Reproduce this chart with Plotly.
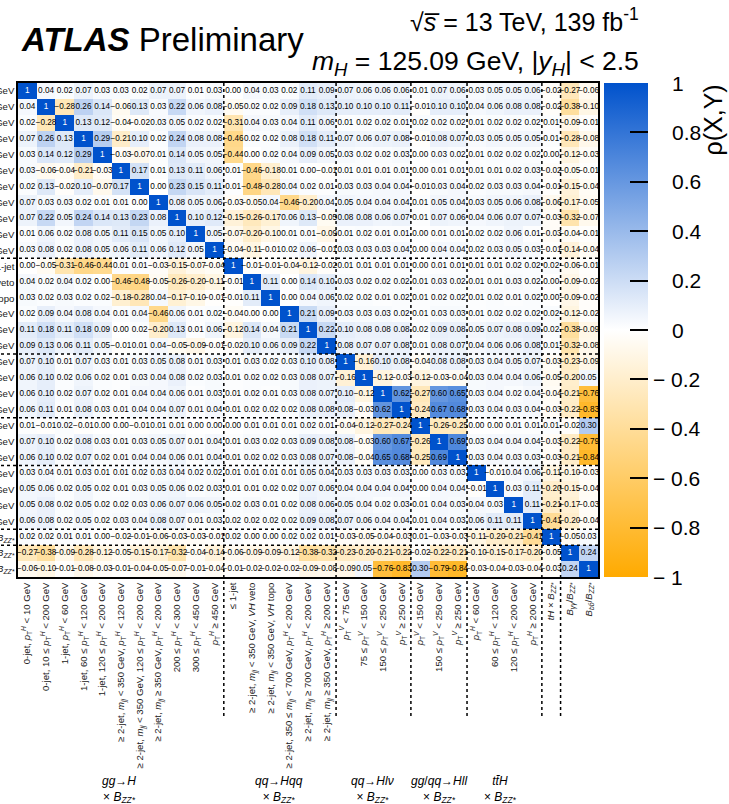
import plotly.graph_objects as go

# ---- bin labels (rows and columns share the same ordering) ----
pTH = "<i>p</i><sub>T</sub><sup><i>H</i></sup>"
pTV = "<i>p</i><sub>T</sub><sup><i>V</i></sup>"
mjj = "<i>m</i><sub><i>jj</i></sub>"
BZZ = "<i>B</i><sub><i>ZZ*</i></sub>"

labels = [
    f"0-jet, {pTH} < 10 GeV",
    f"0-jet, 10 ≤ {pTH} < 200 GeV",
    f"1-jet, {pTH} < 60 GeV",
    f"1-jet, 60 ≤ {pTH} < 120 GeV",
    f"1-jet, 120 ≤ {pTH} < 200 GeV",
    f"≥ 2-jet, {mjj} < 350 GeV, {pTH} < 120 GeV",
    f"≥ 2-jet, {mjj} < 350 GeV, 120 ≤ {pTH} < 200 GeV",
    f"≥ 2-jet, {mjj} ≥ 350 GeV, {pTH} < 200 GeV",
    f"200 ≤ {pTH} < 300 GeV",
    f"300 ≤ {pTH} < 450 GeV",
    f"{pTH} ≥ 450 GeV",
    "≤ 1-jet",
    f"≥ 2-jet, {mjj} < 350 GeV, <i>VH</i> veto",
    f"≥ 2-jet, {mjj} < 350 GeV, <i>VH</i> topo",
    f"≥ 2-jet, 350 ≤ {mjj} < 700 GeV, {pTH} < 200 GeV",
    f"≥ 2-jet, {mjj} ≥ 700 GeV, {pTH} < 200 GeV",
    f"≥ 2-jet, {mjj} ≥ 350 GeV, {pTH} ≥ 200 GeV",
    f"{pTV} < 75 GeV",
    f"75 ≤ {pTV} < 150 GeV",
    f"150 ≤ {pTV} < 250 GeV",
    f"{pTV} ≥ 250 GeV",
    f"{pTV} < 150 GeV",
    f"150 ≤ {pTV} < 250 GeV",
    f"{pTV} ≥ 250 GeV",
    f"{pTH} < 60 GeV",
    f"60 ≤ {pTH} < 120 GeV",
    f"120 ≤ {pTH} < 200 GeV",
    f"{pTH} ≥ 200 GeV",
    f"<i>tH</i> × {BZZ}",
    f"<i>B</i><sub><i>γγ</i></sub>/{BZZ}",
    f"<i>B</i><sub><i>bb̄</i></sub>/{BZZ}",
]

# ---- correlation matrix rho(X, Y), row by row from the top ----
rho = [
    [1, 0.04, 0.02, 0.07, 0.03, 0.03, 0.02, 0.07, 0.07, 0.01, 0.03, 0.00, 0.04, 0.03, 0.02, 0.11, 0.09, 0.07, 0.06, 0.06, 0.06, 0.01, 0.07, 0.06, 0.03, 0.05, 0.05, 0.06, -0.02, -0.27, -0.06],
    [0.04, 1, -0.28, 0.26, 0.14, -0.06, 0.13, 0.03, 0.22, 0.06, 0.08, -0.05, 0.02, 0.02, 0.09, 0.18, 0.13, 0.10, 0.10, 0.10, 0.11, -0.01, 0.10, 0.10, 0.04, 0.06, 0.08, 0.08, -0.02, -0.38, -0.10],
    [0.02, -0.28, 1, 0.13, 0.12, -0.04, -0.02, 0.03, 0.05, 0.02, 0.02, -0.31, 0.04, 0.03, 0.04, 0.11, 0.06, 0.01, 0.02, 0.02, 0.01, 0.02, 0.02, 0.02, 0.01, 0.02, 0.02, 0.02, 0.01, -0.09, -0.01],
    [0.07, 0.26, 0.13, 1, 0.29, -0.21, 0.10, 0.02, 0.24, 0.08, 0.08, -0.46, 0.02, 0.02, 0.08, 0.18, 0.11, 0.07, 0.06, 0.07, 0.08, -0.01, 0.08, 0.07, 0.03, 0.05, 0.05, 0.05, 0.01, -0.28, -0.08],
    [0.03, 0.14, 0.12, 0.29, 1, -0.03, -0.07, 0.01, 0.14, 0.05, 0.05, -0.44, 0.00, 0.02, 0.04, 0.09, 0.05, 0.03, 0.02, 0.02, 0.03, 0.00, 0.03, 0.02, 0.01, 0.02, 0.02, 0.02, 0.00, -0.12, -0.03],
    [0.03, -0.06, -0.04, -0.21, -0.03, 1, 0.17, 0.01, 0.13, 0.11, 0.06, 0.01, -0.46, -0.18, 0.01, 0.00, -0.01, 0.01, 0.01, 0.01, 0.01, 0.00, 0.01, 0.01, 0.01, 0.01, 0.02, 0.03, -0.02, -0.05, -0.01],
    [0.02, 0.13, -0.02, 0.10, -0.07, 0.17, 1, 0.00, 0.23, 0.15, 0.11, 0.01, -0.48, -0.28, 0.04, 0.02, 0.01, 0.03, 0.03, 0.04, 0.04, -0.01, 0.03, 0.04, 0.02, 0.03, 0.03, 0.04, -0.01, -0.15, -0.04],
    [0.07, 0.03, 0.03, 0.02, 0.01, 0.01, 0.00, 1, 0.08, 0.05, 0.06, -0.03, -0.05, 0.04, -0.46, -0.20, 0.04, 0.05, 0.04, 0.04, 0.04, 0.01, 0.05, 0.04, 0.03, 0.05, 0.06, 0.08, -0.06, -0.17, -0.05],
    [0.07, 0.22, 0.05, 0.24, 0.14, 0.13, 0.23, 0.08, 1, 0.10, 0.12, -0.15, -0.26, -0.17, 0.06, 0.13, -0.05, 0.08, 0.08, 0.06, 0.07, 0.01, 0.07, 0.06, 0.04, 0.06, 0.07, 0.07, -0.03, -0.32, -0.07],
    [0.01, 0.06, 0.02, 0.08, 0.05, 0.11, 0.15, 0.05, 0.10, 1, 0.05, -0.07, -0.20, -0.10, 0.01, 0.01, -0.09, 0.01, 0.02, 0.01, 0.01, 0.00, 0.01, 0.01, 0.02, 0.02, 0.06, 0.01, -0.03, -0.04, -0.01],
    [0.03, 0.08, 0.02, 0.08, 0.05, 0.06, 0.11, 0.06, 0.12, 0.05, 1, -0.04, -0.11, -0.01, 0.02, 0.06, -0.01, 0.03, 0.03, 0.03, 0.04, 0.00, 0.04, 0.04, 0.02, 0.03, 0.05, 0.03, -0.01, -0.14, -0.04],
    [0.00, -0.05, -0.31, -0.46, -0.44, 0.01, 0.01, -0.03, -0.15, -0.07, -0.04, 1, -0.01, -0.01, -0.04, -0.12, -0.02, 0.01, 0.01, 0.01, 0.01, 0.00, 0.01, 0.01, 0.01, 0.01, 0.02, 0.02, 0.02, -0.06, -0.01],
    [0.04, 0.02, 0.04, 0.02, 0.00, -0.46, -0.48, -0.05, -0.26, -0.20, -0.11, -0.01, 1, 0.11, 0.00, 0.14, 0.10, 0.03, 0.02, 0.02, 0.02, 0.01, 0.03, 0.02, 0.01, 0.01, 0.03, 0.02, 0.00, -0.09, -0.02],
    [0.03, 0.02, 0.03, 0.02, 0.02, -0.18, -0.28, 0.04, -0.17, -0.10, -0.01, -0.01, 0.11, 1, 0.00, 0.04, 0.06, 0.02, 0.02, 0.01, 0.02, 0.01, 0.02, 0.02, 0.01, 0.02, 0.01, 0.02, 0.00, -0.09, -0.02],
    [0.02, 0.09, 0.04, 0.08, 0.04, 0.01, 0.04, -0.46, 0.06, 0.01, 0.02, -0.04, 0.00, 0.00, 1, 0.21, 0.09, 0.03, 0.03, 0.03, 0.02, 0.01, 0.03, 0.03, 0.01, 0.02, 0.02, 0.02, 0.02, -0.12, -0.02],
    [0.11, 0.18, 0.11, 0.18, 0.09, 0.00, 0.02, -0.20, 0.13, 0.01, 0.06, -0.12, 0.14, 0.04, 0.21, 1, 0.22, 0.10, 0.08, 0.08, 0.08, 0.02, 0.09, 0.08, 0.05, 0.07, 0.08, 0.09, 0.02, -0.38, -0.09],
    [0.09, 0.13, 0.06, 0.11, 0.05, -0.01, 0.01, 0.04, -0.05, -0.09, -0.01, -0.02, 0.10, 0.06, 0.09, 0.22, 1, 0.08, 0.07, 0.07, 0.08, 0.01, 0.08, 0.07, 0.04, 0.06, 0.06, 0.08, 0.01, -0.32, -0.08],
    [0.07, 0.10, 0.01, 0.07, 0.03, 0.01, 0.03, 0.05, 0.08, 0.01, 0.03, 0.01, 0.03, 0.02, 0.03, 0.10, 0.08, 1, -0.16, 0.10, 0.08, -0.04, 0.08, 0.08, 0.03, 0.04, 0.05, 0.07, -0.03, -0.23, -0.09],
    [0.06, 0.10, 0.02, 0.06, 0.02, 0.01, 0.03, 0.04, 0.08, 0.02, 0.03, 0.01, 0.02, 0.02, 0.03, 0.08, 0.07, -0.16, 1, -0.12, -0.03, -0.12, -0.03, -0.04, 0.03, 0.04, 0.04, 0.06, -0.05, -0.20, 0.05],
    [0.06, 0.10, 0.02, 0.07, 0.02, 0.01, 0.04, 0.04, 0.06, 0.01, 0.03, 0.01, 0.02, 0.01, 0.03, 0.08, 0.07, 0.10, -0.12, 1, 0.62, -0.27, 0.60, 0.65, 0.03, 0.04, 0.02, 0.04, -0.04, -0.21, -0.76],
    [0.06, 0.11, 0.01, 0.08, 0.03, 0.01, 0.04, 0.04, 0.07, 0.01, 0.04, 0.01, 0.02, 0.02, 0.02, 0.08, 0.08, 0.08, -0.03, 0.62, 1, -0.24, 0.67, 0.68, 0.03, 0.04, 0.03, 0.04, -0.03, -0.22, -0.83],
    [0.01, -0.01, 0.02, -0.01, 0.00, 0.00, -0.01, 0.01, 0.01, 0.00, 0.00, 0.00, 0.01, 0.01, 0.01, 0.02, 0.01, -0.04, -0.12, -0.27, -0.24, 1, -0.26, -0.25, 0.00, 0.00, 0.01, 0.01, 0.01, -0.02, 0.30],
    [0.07, 0.10, 0.02, 0.08, 0.03, 0.01, 0.03, 0.05, 0.07, 0.01, 0.04, 0.01, 0.03, 0.02, 0.03, 0.09, 0.08, 0.08, -0.03, 0.60, 0.67, -0.26, 1, 0.69, 0.03, 0.04, 0.04, 0.04, -0.03, -0.22, -0.79],
    [0.06, 0.10, 0.02, 0.07, 0.02, 0.01, 0.04, 0.04, 0.06, 0.01, 0.04, 0.01, 0.02, 0.02, 0.03, 0.08, 0.07, 0.08, -0.04, 0.65, 0.68, -0.25, 0.69, 1, 0.03, 0.04, 0.03, 0.03, -0.03, -0.21, -0.84],
    [0.03, 0.04, 0.01, 0.03, 0.01, 0.01, 0.02, 0.03, 0.04, 0.02, 0.02, 0.01, 0.01, 0.01, 0.01, 0.05, 0.04, 0.03, 0.03, 0.03, 0.03, 0.00, 0.03, 0.03, 1, -0.01, 0.04, 0.06, -0.11, -0.10, -0.03],
    [0.05, 0.06, 0.02, 0.05, 0.02, 0.01, 0.03, 0.05, 0.06, 0.02, 0.03, 0.01, 0.01, 0.02, 0.02, 0.07, 0.06, 0.04, 0.04, 0.04, 0.04, 0.00, 0.04, 0.04, -0.01, 1, 0.03, 0.11, -0.20, -0.15, -0.04],
    [0.05, 0.08, 0.02, 0.05, 0.02, 0.02, 0.03, 0.06, 0.07, 0.06, 0.05, 0.02, 0.03, 0.01, 0.02, 0.08, 0.06, 0.05, 0.04, 0.02, 0.03, 0.01, 0.04, 0.03, 0.04, 0.03, 1, 0.11, -0.21, -0.17, -0.03],
    [0.06, 0.08, 0.02, 0.05, 0.02, 0.03, 0.04, 0.08, 0.07, 0.01, 0.03, 0.02, 0.02, 0.02, 0.02, 0.09, 0.08, 0.07, 0.06, 0.04, 0.04, 0.01, 0.04, 0.03, 0.06, 0.11, 0.11, 1, -0.41, -0.20, -0.04],
    [0.02, 0.02, 0.01, 0.01, 0.00, -0.02, -0.01, -0.06, -0.03, -0.03, -0.01, 0.02, 0.00, 0.00, 0.02, 0.02, 0.01, -0.03, -0.05, -0.04, -0.03, 0.01, -0.03, -0.03, -0.11, -0.20, -0.21, -0.41, 1, -0.05, 0.03],
    [-0.27, -0.38, -0.09, -0.28, -0.12, -0.05, -0.15, -0.17, -0.32, -0.04, -0.14, -0.06, -0.09, -0.09, -0.12, -0.38, -0.32, -0.23, -0.20, -0.21, -0.22, -0.02, -0.22, -0.21, -0.10, -0.15, -0.17, -0.20, -0.05, 1, 0.24],
    [-0.06, -0.10, -0.01, -0.08, -0.03, -0.01, -0.04, -0.05, -0.07, -0.01, -0.04, -0.01, -0.02, -0.02, -0.02, -0.09, -0.08, -0.09, 0.05, -0.76, -0.83, 0.30, -0.79, -0.84, -0.03, -0.04, -0.03, -0.04, -0.03, 0.24, 1],
]

# group boundaries (index of first bin of each new group)
group_starts = [11, 17, 21, 24, 28, 29]

# production-mode group captions below the x axis
group_names = [
    "<i>gg</i>→<i>H</i><br>× " + BZZ,
    "<i>qq</i>→<i>Hqq</i><br>× " + BZZ,
    "<i>qq</i>→<i>Hlν</i><br>× " + BZZ,
    "<i>gg</i>/<i>qq</i>→<i>Hll</i><br>× " + BZZ,
    "<i>t</i><i>t̄</i><i>H</i><br>× " + BZZ,
]

# colour-axis ticks
z_ticks = [-1, -0.8, -0.6, -0.4, -0.2, 0, 0.2, 0.4, 0.6, 0.8, 1]

n = len(labels)
idx = list(range(n))

FONT = "Liberation Sans, Arial, Helvetica, sans-serif"
W, H = 729, 804
ML, MR, MT, MB = 18, 131, 83, 227
PW, PH = W - ML - MR, H - MT - MB


def px_x(px):
    return (px - ML) / PW


def px_y(py):
    return (H - MB - py) / PH


colorscale = [[0.0, "#FFAA00"], [0.5, "#FFFFFF"], [1.0, "#0052CC"]]

fig = go.Figure()
fig.add_trace(go.Heatmap(
    z=rho, x=idx, y=idx,
    zmin=-1, zmax=1, colorscale=colorscale,
    hoverinfo="skip",
    colorbar=dict(
        x=px_x(604), xanchor="left", xref="paper",
        y=0.5, yanchor="middle", len=1.0, lenmode="fraction",
        thickness=44, outlinewidth=0,
        tickvals=z_ticks, showticklabels=False,
        ticks="inside", ticklen=18, tickwidth=1.5, tickcolor="black",
        ypad=0, xpad=0,
    ),
))

# cell value labels
tx, ty, tt, tc = [], [], [], []
for i, row in enumerate(rho):
    for j, v in enumerate(row):
        tx.append(j)
        ty.append(i)
        tt.append("1" if v == 1 else f"{v:.2f}".replace("-", "−"))
        tc.append("white" if v == 1 else "black")
fig.add_trace(go.Scatter(
    x=tx, y=ty, text=tt, mode="text",
    textfont=dict(family=FONT, size=8.2, color=tc),
    hoverinfo="skip", showlegend=False,
))

shapes = []
for b in group_starts:
    # vertical separators, continuing down through the label area
    shapes.append(dict(type="line", xref="x", yref="paper",
                       x0=b - 0.5, x1=b - 0.5, y0=1, y1=px_y(717),
                       line=dict(color="black", width=1.5, dash="dot")))
    # horizontal separators, continuing left through the label area
    shapes.append(dict(type="line", xref="paper", yref="y",
                       x0=px_x(-5), x1=1, y0=b - 0.5, y1=b - 0.5,
                       line=dict(color="black", width=1.5, dash="dot")))

annotations = []
group_x = [119, 279, 373, 439, 500]
for name, gx in zip(group_names, group_x):
    annotations.append(dict(
        text=name, xref="paper", yref="paper", x=px_x(gx), y=px_y(772),
        xanchor="center", yanchor="top", showarrow=False, align="center",
        font=dict(family=FONT, size=12, color="black")))

# colour-axis labels: digits aligned, minus sign hanging to the left
zfont = dict(family=FONT, size=21, color="black")
for v in z_ticks:
    yv = (v + 1) / 2
    if v < 0:
        txt, x0 = f"− {abs(v):g}", px_x(651)
    else:
        txt, x0 = f"{v:g}", px_x(670)
    annotations.append(dict(
        text=txt, xref="paper", yref="paper", x=x0, y=yv,
        xanchor="left", yanchor="middle", showarrow=False, font=zfont))

annotations += [
    dict(text="<b><i>ATLAS</i></b> Preliminary", xref="paper", yref="paper",
         x=px_x(19), y=px_y(60), xanchor="left", yanchor="bottom", showarrow=False,
         font=dict(family=FONT, size=33, color="black")),
    dict(text="√<i>s̅</i> = 13 TeV, 139 fb<sup>-1</sup>", xref="paper", yref="paper",
         x=px_x(641), y=px_y(38), xanchor="right", yanchor="bottom", showarrow=False,
         font=dict(family=FONT, size=25, color="black")),
    dict(text="<i>m</i><sub><i>H</i></sub> = 125.09 GeV, |<i>y</i><sub><i>H</i></sub>| < 2.5",
         xref="paper", yref="paper",
         x=px_x(641), y=px_y(82), xanchor="right", yanchor="bottom", showarrow=False,
         font=dict(family=FONT, size=26.5, color="black")),
    dict(text="ρ(X,Y)", xref="paper", yref="paper", textangle=-90,
         x=px_x(712), y=1.0, xanchor="center", yanchor="top", showarrow=False,
         font=dict(family=FONT, size=25, color="black")),
]

fig.update_layout(
    width=W, height=H,
    margin=dict(l=ML, r=MR, t=MT, b=MB, pad=0, autoexpand=False),
    paper_bgcolor="white", plot_bgcolor="white",
    template="none",
    showlegend=False,
    shapes=shapes,
    annotations=annotations,
    xaxis=dict(
        range=[-0.5, n - 0.5], tickmode="array", tickvals=idx, ticktext=labels,
        tickangle=-90, ticks="", showgrid=False, zeroline=False,
        showline=True, linecolor="black", linewidth=1.5, mirror=True,
        tickfont=dict(family=FONT, size=9.6, color="#222"), automargin=False,
    ),
    yaxis=dict(
        range=[n - 0.5, -0.5], tickmode="array", tickvals=idx, ticktext=labels,
        ticks="", showgrid=False, zeroline=False,
        showline=True, linecolor="black", linewidth=1.5, mirror=True,
        tickfont=dict(family=FONT, size=9.6, color="#222"), automargin=False,
    ),
)

fig.write_html("out.html")
